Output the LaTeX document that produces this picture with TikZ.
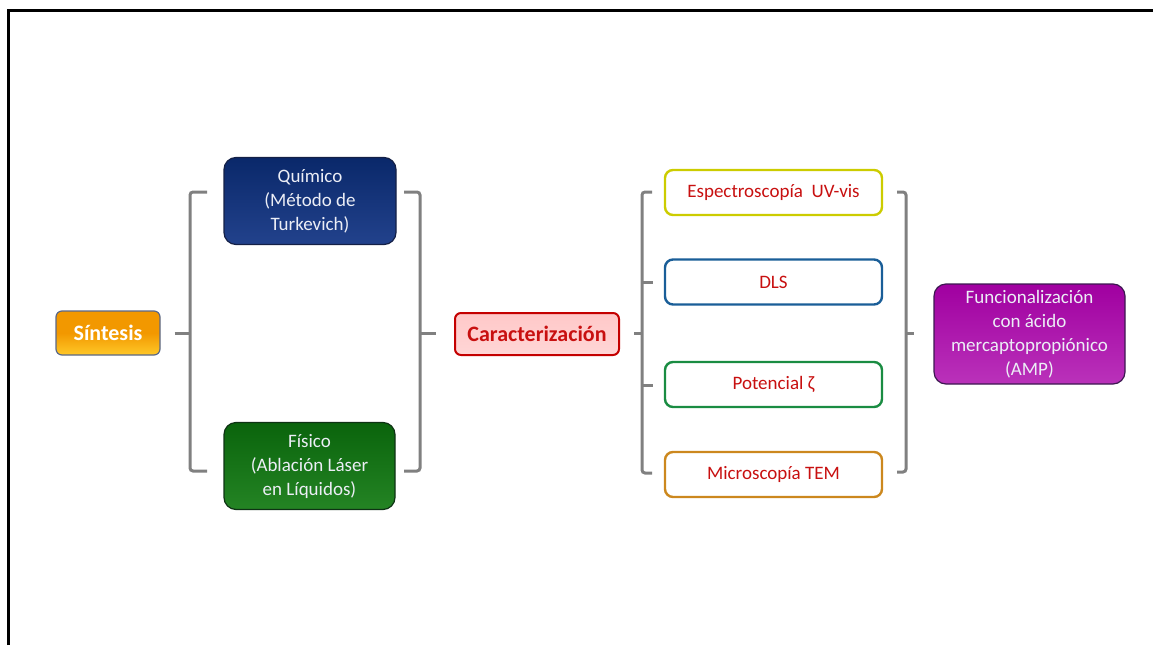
\documentclass[tikz,border=0pt]{standalone}
\usepackage{fontspec}
\setmainfont{Carlito}
\usetikzlibrary{calc}
\definecolor{navy}{RGB}{10,40,106}
\definecolor{navylt}{RGB}{34,66,140}
\definecolor{navybd}{RGB}{20,32,70}
\definecolor{forest}{RGB}{10,100,12}
\definecolor{forestlt}{RGB}{36,132,36}
\definecolor{forestbd}{RGB}{14,50,20}
\definecolor{orangedk}{RGB}{242,152,0}
\definecolor{orangelt}{RGB}{255,200,40}
\definecolor{orangebd}{RGB}{90,104,136}
\definecolor{purp}{RGB}{160,0,160}
\definecolor{purplt}{RGB}{186,50,186}
\definecolor{purpbd}{RGB}{60,24,80}
\definecolor{redtxt}{RGB}{200,16,16}
\definecolor{redbd}{RGB}{196,0,0}
\definecolor{pinkfill}{RGB}{255,200,200}
\definecolor{pinklt}{RGB}{255,214,214}
\definecolor{bracegray}{RGB}{128,128,128}
\definecolor{uvbd}{RGB}{204,204,0}
\definecolor{dlsbd}{RGB}{26,94,152}
\definecolor{zetabd}{RGB}{26,140,66}
\definecolor{tembd}{RGB}{204,136,30}
\definecolor{txtwhite}{RGB}{236,238,246}
\begin{document}
\begin{tikzpicture}[x=1pt,y=-1pt,
  bigbox/.style={rounded corners=12pt, draw=#1, line width=1.2pt, align=center,
    inner sep=0pt, text=txtwhite, font=\fontsize{19}{24}\selectfont},
  tagbox/.style={rounded corners=8pt, draw=#1, line width=2.4pt, fill=white,
    align=center, inner sep=0pt, text=redtxt, font=\fontsize{19}{24}\selectfont,
    minimum width=217pt, minimum height=45pt},
  brace/.style={draw=bracegray, line width=3pt, rounded corners=3pt}]
\useasboundingbox (0,0) rectangle (1153,645);

% outer frame (open to the right and bottom)
\draw[line width=3pt] (8.7,645) -- (8.7,10.7) -- (1153,10.7);

% synthesis stage
\node[bigbox=orangebd, rounded corners=6pt,
      top color=orangedk, bottom color=orangelt, middle color=orangedk,
      minimum width=104pt, minimum height=44pt,
      font=\fontsize{22}{26}\selectfont\bfseries, text=white] (sint) at (108,333) {Síntesis};
\node[bigbox=navybd, top color=navy, middle color=navy,
      bottom color=navylt, minimum width=172pt, minimum height=87pt] (quim) at (310,201)
      {Químico\\(Método de\\Turkevich)};
\node[bigbox=forestbd, top color=forest, middle color=forest,
      bottom color=forestlt, minimum width=171pt, minimum height=87pt] (fis) at (309.5,466)
      {Físico\\(Ablación Láser\\en Líquidos)};

% characterization stage
\node[bigbox=redbd, rounded corners=6pt, line width=2pt, top color=pinkfill,
      bottom color=pinklt, text=redtxt,
      minimum width=164pt, minimum height=42pt,
      font=\fontsize{22}{26}\selectfont\bfseries] (car) at (537,334) {Caracterización};
\node[tagbox=uvbd] (uv) at (773.5,192.5) {Espectroscopía\ \ UV-vis};
\node[tagbox=dlsbd] (dls) at (773.5,282) {DLS};
\node[tagbox=zetabd] (zeta) at (773.5,384.5) {Potencial ζ};
\node[tagbox=tembd] (tem) at (773.5,474.5) {Microscopía TEM};

% functionalization stage
\node[bigbox=purpbd, top color=purp, middle color=purp,
      bottom color=purplt, minimum width=191pt, minimum height=100pt] (fun) at (1029.5,334)
      {Funcionalización\\con ácido\\mercaptopropiónico\\(AMP)};

% bracket from Síntesis to both routes
\coordinate (b1t) at (207,192);
\coordinate (b1b) at (207,471);
\draw[brace] (b1t) -- (190,192) -- (190,471) -- (b1b);
\draw[brace] ($(sint.east)+(14,0)$) -- (190,333);

% bracket from both routes to Caracterización
\coordinate (b2t) at (404,192);
\coordinate (b2b) at (404,471);
\draw[brace] (b2t) -- (420,192) -- (420,471) -- (b2b);
\draw[brace] (420,333) -- ($(car.west)+(-18,-1)$);

% bracket from Caracterización to the techniques
\draw[brace] (652,192) -- (642,192) -- (642,473) -- (652,473);
\draw[brace] (642,282) -- ($(dls.west)+(-11,0)$);
\draw[brace] (642,385) -- ($(zeta.west)+(-11,0.5)$);
\draw[brace] ($(car.east)+(14,-1)$) -- (642,333);

% bracket from the techniques to Funcionalización
\draw[brace] (897,192) -- (906,192) -- (906,472) -- (897,472);
\draw[brace] (906,333) -- ($(fun.west)+(-19,-1)$);
\end{tikzpicture}
\end{document}
